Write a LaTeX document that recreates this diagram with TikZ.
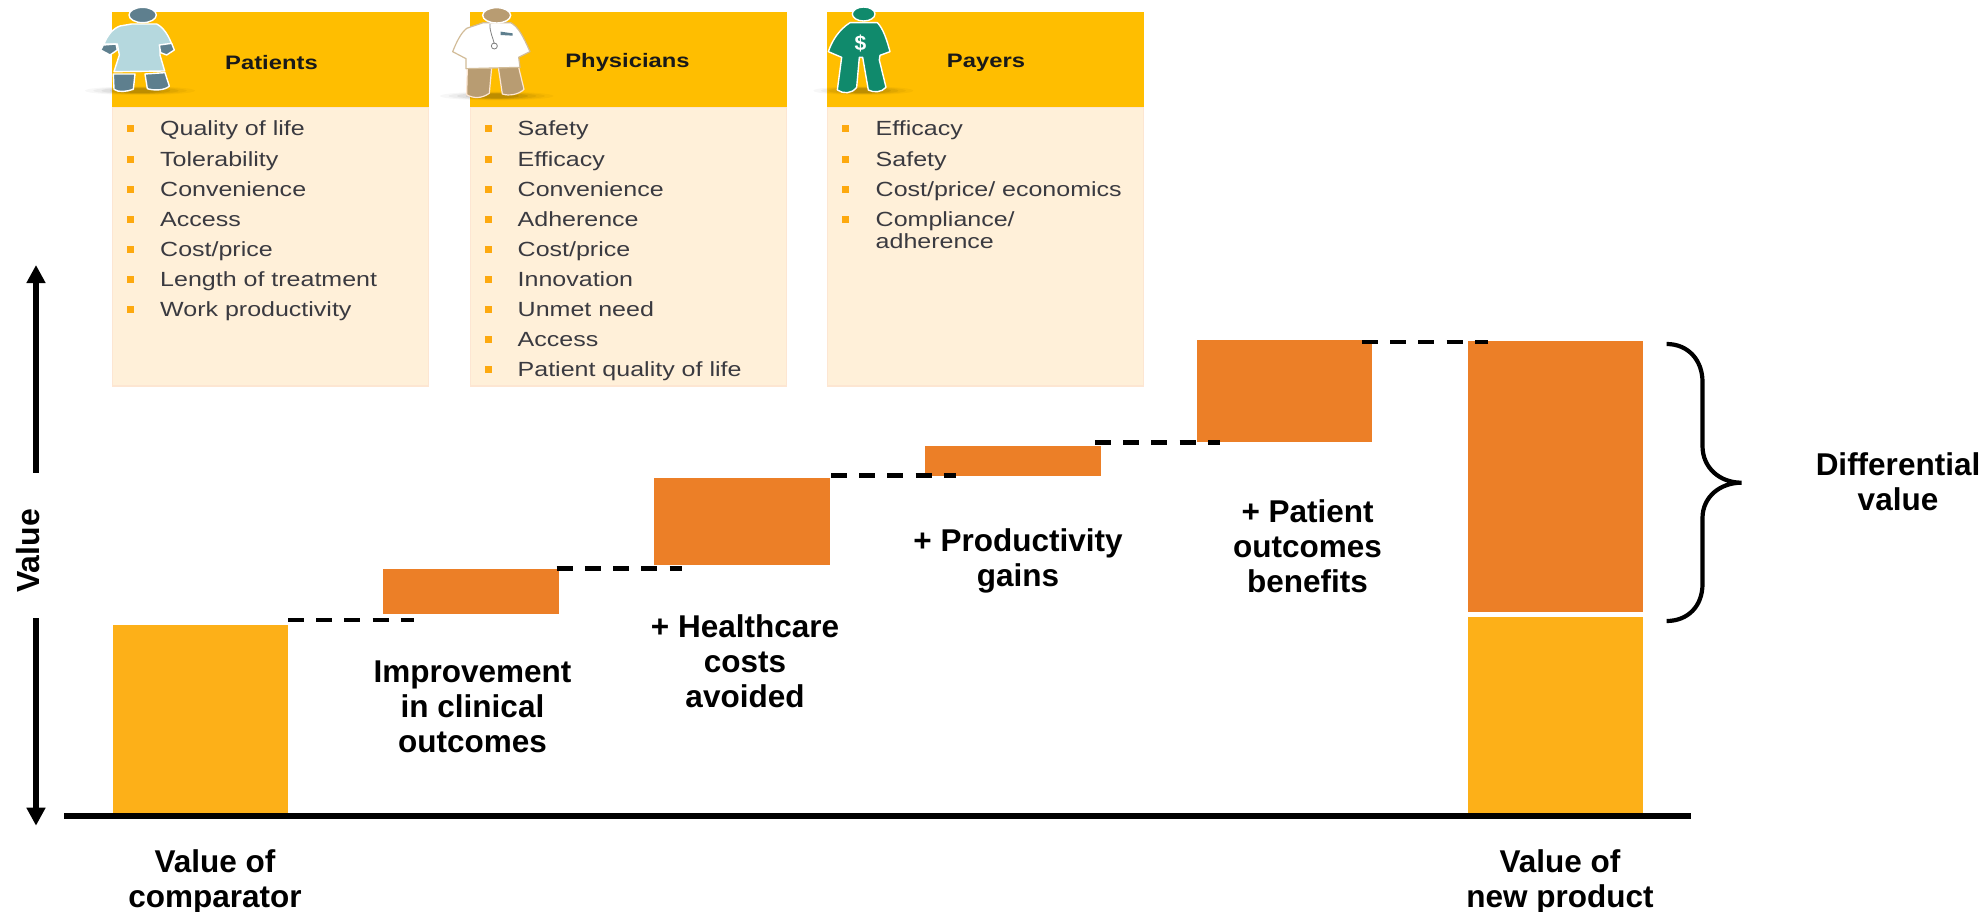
\documentclass[tikz,border=0pt]{standalone}
\usepackage{fontspec}
\setmainfont{Liberation Sans}
\newfontfamily\stretchfont[FakeStretch=1.22]{Liberation Sans}
\usetikzlibrary{arrows.meta}
\definecolor{hdr}{HTML}{FFBE00}
\definecolor{bodyc}{HTML}{FFF0D9}
\definecolor{bodye}{HTML}{FDE6D2}
\definecolor{bul}{HTML}{FDA90F}
\definecolor{itemc}{HTML}{3A3A40}
\definecolor{orng}{HTML}{EC7F27}
\definecolor{yllw}{HTML}{FDB018}
\definecolor{gown}{HTML}{B5D8DE}
\definecolor{slate}{HTML}{5E7F8E}
\definecolor{tan}{HTML}{B89C72}
\definecolor{tanl}{HTML}{D2BC98}
\definecolor{grn}{HTML}{108A6C}
\tikzset{
  x=1pt,y=-1pt,
  hdrbox/.style={fill=hdr,draw=none,inner sep=0,outer sep=0,minimum width=317pt,minimum height=95pt,anchor=north west},
  bodybox/.style={fill=bodyc,draw=bodye,line width=1.6pt,inner sep=0,outer sep=0,minimum width=316pt,minimum height=279pt,anchor=north west},
  hdrtxt/.style={font=\stretchfont\bfseries\fontsize{19.5}{23}\selectfont,text=black!90,inner sep=0},
  itemtxt/.style={font=\stretchfont\fontsize{20.5}{24}\selectfont,text=itemc,anchor=base west,inner sep=0},
  bigtxt/.style={font=\bfseries\fontsize{31.5}{35}\selectfont,text=black,align=center,inner sep=0},
  orangebar/.style={fill=orng,draw=none,inner sep=0,outer sep=0,anchor=north west},
  yellowbar/.style={fill=yllw,draw=none,inner sep=0,outer sep=0,anchor=north west},
  dashln/.style={draw=black,line width=4.6pt,dash pattern=on 16pt off 12.2pt},
  axisln/.style={draw=black,line width=6pt},
  arrowln/.style={draw=black,line width=6.6pt,-{Triangle[width=18pt,length=18pt]}},
  bracec/.style={draw=black,line width=4.2pt,line cap=butt},
  iconout/.style={draw=white,line width=1.4pt,line join=round},
  iconscale/.style={x=0.33333pt,y=-0.33333pt},
}
\newcommand{\iconshadow}[3]{%
  \fill[black,opacity=.03] (#1,#2) ellipse [x radius=#3,y radius=13];
  \fill[black,opacity=.04] (#1,#2) ellipse [x radius=#3*.85,y radius=11];
  \fill[black,opacity=.05] (#1,#2) ellipse [x radius=#3*.7,y radius=10];
  \fill[black,opacity=.07] (#1,#2) ellipse [x radius=#3*.55,y radius=9];
  \fill[black,opacity=.09] (#1,#2) ellipse [x radius=#3*.4,y radius=7];
}
\begin{document}
\begin{tikzpicture}
\useasboundingbox (0,0) rectangle (1987,912);
\fill[white] (0,0) rectangle (1987,912);

% panels
\node[bodybox] (patbody) at (112.5,107) {};
\node[hdrbox] (pathdr) at (112,12) {};
\node[bodybox] (phybody) at (470.5,107) {};
\node[hdrbox] (phyhdr) at (470,12) {};
\node[bodybox] (paybody) at (827.5,107) {};
\node[hdrbox] (payhdr) at (827,12) {};
\node[hdrtxt] (pattitle) at (271.5,62.5) {Patients};
\node[hdrtxt] (phytitle) at (627.5,62.5) {Physicians};
\node[hdrtxt] (paytitle) at (986,62.5) {Payers};

% item lists
\foreach \t [count=\i] in {Quality of life,Tolerability,Convenience,Access,Cost/price,Length of treatment,Work productivity}{
  \fill[bul] ({126.5},{125.5+30.1*(\i-1)}) rectangle ++(7,7);
  \node[itemtxt] (pat\i) at (160,{136+30.1*(\i-1)}) {\t};
}
\foreach \t [count=\i] in {Safety,Efficacy,Convenience,Adherence,Cost/price,Innovation,Unmet need,Access,Patient quality of life}{
  \fill[bul] ({484.5},{125.5+30.1*(\i-1)}) rectangle ++(7,7);
  \node[itemtxt] (phy\i) at (517.5,{136+30.1*(\i-1)}) {\t};
}
\foreach \t [count=\i] in {Efficacy,Safety,Cost/price/ economics,Compliance/}{
  \fill[bul] ({841.5},{125.5+30.1*(\i-1)}) rectangle ++(7,7);
  \node[itemtxt] (pay\i) at (875.5,{136+30.1*(\i-1)}) {\t};
}
\node[itemtxt] (pay5) at (875.5,248.5) {adherence};

% patient icon
\begin{scope}[shift={(60,0)},iconscale]
  \iconshadow{240}{272}{165}
  \path[fill=slate,iconout] (160,222) -- (225,222) -- (220,268) .. controls (200,275) and (175,278) .. (162,268) -- cycle;
  \path[fill=slate,iconout] (255,222) -- (315,218) -- (328,258) .. controls (315,272) and (280,272) .. (262,266) -- cycle;
  \path[fill=gown,iconout] (215,72) -- (290,72) .. controls (310,82) and (325,105) .. (335,132) -- (300,135) -- (300,165) -- (314,213) -- (162,215) -- (178,165) -- (172,132) -- (132,132) .. controls (142,105) and (160,85) .. (180,78) -- cycle;
  \path[fill=slate,iconout] (298,135) -- (335,130) -- (343,150) -- (320,165) -- (302,158) -- cycle;
  \path[fill=slate,iconout] (130,135) -- (168,132) -- (172,150) -- (150,165) -- (122,150) -- cycle;
  \path[fill=slate,iconout] (248,45) ellipse [x radius=41,y radius=23];
\end{scope}

% physician icon
\begin{scope}[shift={(440,0)},iconscale]
  \iconshadow{170}{288}{170}
  \path[fill=tan,draw=bodye,line width=1.2pt,line join=round] (82,203) -- (155,203) -- (148,280) .. controls (125,296) and (100,296) .. (80,284) -- cycle;
  \path[fill=tan,draw=bodye,line width=1.2pt,line join=round] (175,203) -- (235,198) -- (252,268) .. controls (235,285) and (205,288) .. (187,282) -- cycle;
  \path[fill=white,draw=tanl,line width=1.2pt,line join=round] (130,68) -- (212,68) .. controls (235,80) and (250,110) .. (270,155) -- (236,172) -- (240,202) -- (78,206) -- (78,176) -- (38,155) .. controls (50,125) and (62,100) .. (80,85) -- cycle;
  \draw[gray,line width=.8pt] (150,72) .. controls (148,95) and (160,115) .. (163,132);
  \draw[gray,line width=.8pt] (163,138) circle [radius=9];
  \fill[slate] (182,95) -- (218,100) -- (218,107) -- (182,105) -- cycle;
  \path[fill=tan,draw=white,line width=1.4pt] (170,46) ellipse [x radius=42,y radius=23];
\end{scope}

% payer icon
\begin{scope}[shift={(800,0)},iconscale]
  \iconshadow{190}{272}{150}
  \path[fill=grn,iconout] (150,68) -- (232,68) .. controls (250,85) and (262,125) .. (270,155) -- (240,166) -- (238,180) -- (258,262) .. controls (245,278) and (220,278) .. (205,270) -- (188,172) -- (178,172) -- (170,262) .. controls (155,282) and (130,282) .. (112,270) -- (125,172) -- (85,155) .. controls (95,125) and (115,90) .. cycle;
  \path[fill=grn,iconout] (191,42) ellipse [x radius=34,y radius=21];
\end{scope}
\node[inner sep=0,text=white,font=\bfseries\fontsize{21}{24}\selectfont] (dollar) at (860.5,43) {\$};

% bars
\node[yellowbar,minimum width=175pt,minimum height=188pt] (comp) at (112.8,625) {};
\node[orangebar,minimum width=175.3pt,minimum height=45pt] (b1) at (383.3,569.3) {};
\node[orangebar,minimum width=175.3pt,minimum height=87pt] (b2) at (654.2,478) {};
\node[orangebar,minimum width=175.6pt,minimum height=30pt] (b3) at (925.3,445.7) {};
\node[orangebar,minimum width=175.3pt,minimum height=102pt] (b4) at (1196.6,340) {};
\node[orangebar,minimum width=175.3pt,minimum height=271pt] (newo) at (1467.8,340.7) {};
\node[yellowbar,minimum width=175.3pt,minimum height=196pt] (newy) at (1467.8,617.3) {};

% dashed connectors
\coordinate (d1a) at (288,620); \coordinate (d1b) at (413.5,620);
\coordinate (d2a) at (556.7,568.3); \coordinate (d2b) at (682.2,568.3);
\coordinate (d3a) at (831,475.7); \coordinate (d3b) at (956.3,475.7);
\coordinate (d4a) at (1095,442.7); \coordinate (d4b) at (1220,442.7);
\coordinate (d5a) at (1362,342); \coordinate (d5b) at (1487.5,342);
\draw[dashln] (d1a) -- (d1b);
\draw[dashln] (d2a) -- (d2b);
\draw[dashln] (d3a) -- (d3b);
\draw[dashln] (d4a) -- (d4b);
\draw[dashln] (d5a) -- (d5b);

% axes
\coordinate (axl) at (64,815.5); \coordinate (axr) at (1690.7,815.5);
\draw[axisln] (axl) -- (axr);
\coordinate (upa) at (36,472.7); \coordinate (upb) at (36,265);
\coordinate (dna) at (36,618.3); \coordinate (dnb) at (36,825.7);
\draw[arrowln] (upa) -- (upb);
\draw[arrowln] (dna) -- (dnb);
\node[bigtxt,rotate=90,font=\bfseries\fontsize{32}{36}\selectfont] (valuelab) at (28,551) {Value};

% brace
\draw[bracec] (1666.6,344) .. controls (1688,344) and (1702.5,360) .. (1702.5,382) -- (1702.5,446)
  .. controls (1702.5,468) and (1720,482.7) .. (1741.4,482.7)
  .. controls (1720,482.7) and (1702.5,497) .. (1702.5,518) -- (1702.5,584)
  .. controls (1702.5,606) and (1688,621) .. (1666.6,621);

% labels
\node[bigtxt] (lcomp) at (215,882) {Value of\\comparator};
\node[bigtxt] (lnew) at (1560,882) {Value of\\new product};
\node[bigtxt] (l1) at (472.5,707) {Improvement\\in clinical\\outcomes};
\node[bigtxt] (l2) at (745,661) {+ Healthcare\\costs\\avoided};
\node[bigtxt] (l3) at (1018,561) {+ Productivity\\gains};
\node[bigtxt] (l4) at (1307.6,546) {+ Patient\\outcomes\\benefits};
\node[bigtxt] (ldiff) at (1898,482) {Differential\\value};
\end{tikzpicture}
\end{document}
